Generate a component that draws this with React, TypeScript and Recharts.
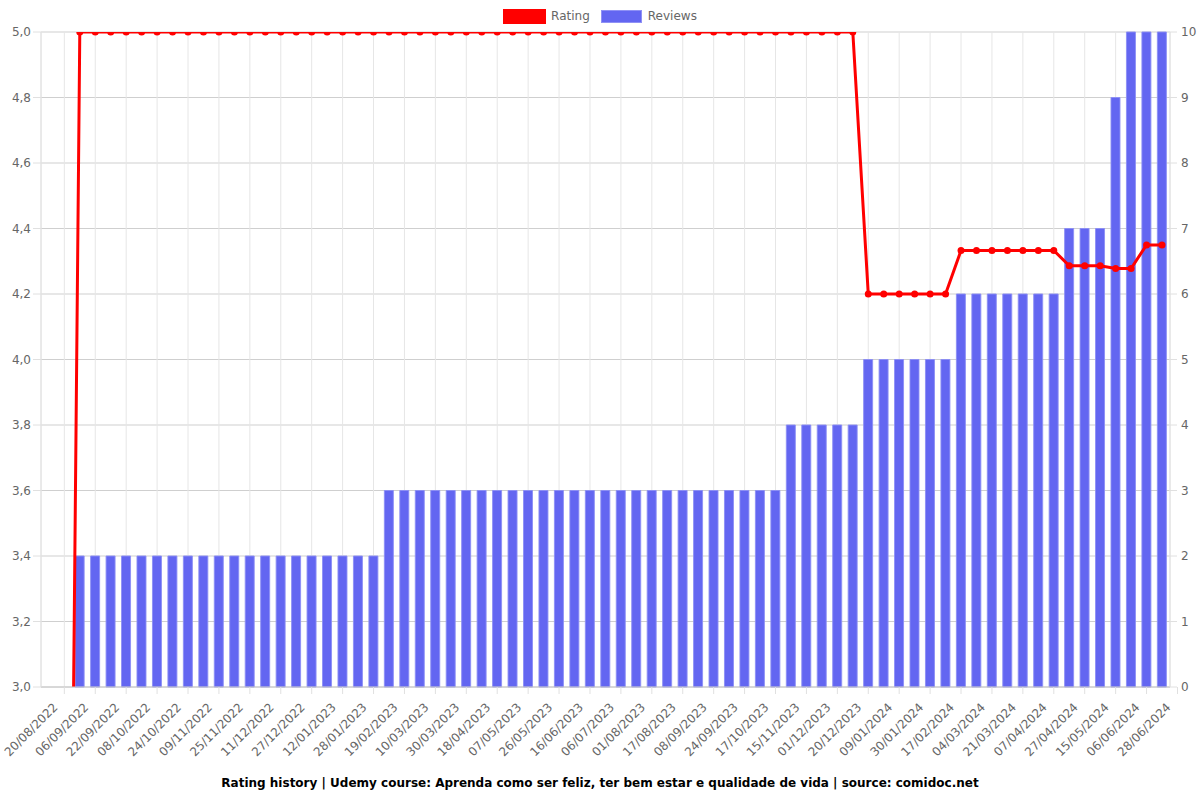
import React from 'react';
import { ComposedChart, Bar, Line, XAxis, YAxis, CartesianGrid, Legend } from 'recharts';

const dates = [
  '20/08/2022', '28/08/2022', '06/09/2022', '14/09/2022', '22/09/2022', '30/09/2022',
  '08/10/2022', '16/10/2022', '24/10/2022', '01/11/2022', '09/11/2022', '17/11/2022',
  '25/11/2022', '03/12/2022', '11/12/2022', '19/12/2022', '27/12/2022', '04/01/2023',
  '12/01/2023', '20/01/2023', '28/01/2023', '08/02/2023', '19/02/2023', '28/02/2023',
  '10/03/2023', '20/03/2023', '30/03/2023', '09/04/2023', '18/04/2023', '28/04/2023',
  '07/05/2023', '17/05/2023', '26/05/2023', '05/06/2023', '16/06/2023', '26/06/2023',
  '06/07/2023', '19/07/2023', '01/08/2023', '09/08/2023', '17/08/2023', '27/08/2023',
  '08/09/2023', '16/09/2023', '24/09/2023', '05/10/2023', '17/10/2023', '31/10/2023',
  '15/11/2023', '23/11/2023', '01/12/2023', '10/12/2023', '20/12/2023', '30/12/2023',
  '09/01/2024', '19/01/2024', '30/01/2024', '08/02/2024', '17/02/2024', '25/02/2024',
  '04/03/2024', '12/03/2024', '21/03/2024', '29/03/2024', '07/04/2024', '17/04/2024',
  '27/04/2024', '06/05/2024', '15/05/2024', '25/05/2024', '06/06/2024', '17/06/2024',
  '28/06/2024',
];

const ratingValues: (number | null)[] = [
  0,
  5, 5, 5, 5, 5, 5, 5, 5, 5, 5,
  5, 5, 5, 5, 5, 5, 5, 5, 5, 5,
  5, 5, 5, 5, 5, 5, 5, 5, 5, 5,
  5, 5, 5, 5, 5, 5, 5, 5, 5, 5,
  5, 5, 5, 5, 5, 5, 5, 5, 5, 5, 5,
  4.2, 4.2, 4.2, 4.2, 4.2, 4.2,
  4.333, 4.333, 4.333, 4.333, 4.333, 4.333, 4.333,
  4.286, 4.286, 4.286,
  4.278, 4.278,
  4.35, 4.35,
  null,
];

const reviewValues: (number | null)[] = [
  0,
  2, 2, 2, 2, 2, 2, 2, 2, 2, 2,
  2, 2, 2, 2, 2, 2, 2, 2, 2, 2,
  3, 3, 3, 3, 3, 3, 3, 3, 3, 3, 3, 3, 3,
  3, 3, 3, 3, 3, 3, 3, 3, 3, 3, 3, 3, 3,
  4, 4, 4, 4, 4,
  5, 5, 5, 5, 5, 5,
  6, 6, 6, 6, 6, 6, 6,
  7, 7, 7,
  9,
  10, 10, 10,
  null,
];

const ratingTicks = [3, 3.2, 3.4, 3.6, 3.8, 4, 4.2, 4.4, 4.6, 4.8, 5];
const reviewTicks = [0, 1, 2, 3, 4, 5, 6, 7, 8, 9, 10];
const legendOrder = ['Rating', 'Reviews'];
const TITLE =
  'Rating history | Udemy course: Aprenda como ser feliz, ter bem estar e qualidade de vida | source: comidoc.net';

const data = dates.map((date, i) => ({
  date,
  Rating: ratingValues[i],
  Reviews: reviewValues[i],
}));

const RED = '#ff0000';
const BLUE = '#6366f1';
const TEXT = '#666666';

const XTick = (props: any) => {
  const { x, y, payload } = props;
  return (
    <g transform={`translate(${x - 9},${y + 9})`}>
      <text textAnchor="end" fill={TEXT} fontSize={12} transform="rotate(-45)" dy="0.35em">
        {payload.value}
      </text>
    </g>
  );
};

const verticalGen = (args: any) => {
  const { xAxis, offset } = args;
  const left = offset.left;
  const right = offset.left + offset.width;
  const out: number[] = [left];
  try {
    const scale = xAxis && xAxis.scale;
    const call = (v: string) =>
      typeof scale === 'function' ? scale(v) : scale && scale.map ? scale.map(v) : undefined;
    const bw = scale && typeof scale.bandwidth === 'function' ? scale.bandwidth() : 0;
    dates.forEach((d, i) => {
      if (i % 2 !== 0) return;
      const p = call(d);
      if (typeof p !== 'number' || isNaN(p)) return;
      const c = p + bw / 2;
      if (c > left + 0.5 && c < right - 0.5) out.push(c);
    });
  } catch (e) {
    // ignore
  }
  out.push(right);
  return out;
};

const LegendContent = (props: any) => {
  const payload = [...(props.payload || [])].sort(
    (a: any, b: any) => legendOrder.indexOf(a.value) - legendOrder.indexOf(b.value)
  );
  return (
    <div
      style={{
        height: 32,
        display: 'flex',
        justifyContent: 'center',
        alignItems: 'center',
        fontSize: 12,
        color: TEXT,
        fontFamily: 'DejaVu Sans',
      }}
    >
      {payload.map((p: any, i: number) => {
        const isLine = p.value === 'Rating';
        return (
          <div key={p.value} style={{ display: 'flex', alignItems: 'center', marginLeft: i === 0 ? 0 : 11 }}>
            <div
              style={{
                width: isLine ? 43 : 41,
                height: isLine ? 15 : 13,
                boxSizing: 'border-box',
                background: isLine ? RED : BLUE,
                border: isLine ? `1px solid ${RED}` : '1px solid #8f91f5',
                marginRight: isLine ? 5 : 6,
              }}
            />
            <span>{p.value}</span>
          </div>
        );
      })}
    </div>
  );
};

export default function App() {
  return (
    <div
      style={{
        position: 'absolute',
        left: 0,
        top: 0,
        width: 1200,
        height: 800,
        background: '#ffffff',
        fontFamily: 'DejaVu Sans',
      }}
    >
      <ComposedChart width={1200} height={800} data={data} margin={{ top: 0, right: 0, bottom: 0, left: 0 }} barCategoryGap="20%">
        <CartesianGrid yAxisId="left" vertical={false} stroke="#cfcfcf" />
        <CartesianGrid yAxisId="left" horizontal={false} stroke="#e6e6e6" verticalCoordinatesGenerator={verticalGen} />
        <XAxis
          dataKey="date"
          interval={1}
          height={113}
          padding={{ left: 15.6, right: -15.2 }}
          tick={<XTick />}
          tickSize={7}
          tickLine={{ stroke: '#e0e0e0' }}
          axisLine={{ stroke: '#c8c8c8' }}
        />
        <YAxis
          yAxisId="left"
          width={41}
          domain={[3, 5]}
          ticks={ratingTicks}
          allowDataOverflow
          tickFormatter={(v: number) => v.toFixed(1).replace('.', ',')}
          tick={{ fill: TEXT, fontSize: 12 }}
          tickSize={8}
          tickLine={{ stroke: '#e0e0e0' }}
          axisLine={{ stroke: '#e0e0e0' }}
        />
        <YAxis
          yAxisId="right"
          orientation="right"
          width={30}
          domain={[0, 10]}
          ticks={reviewTicks}
          tick={{ fill: TEXT, fontSize: 12 }}
          tickSize={7}
          tickMargin={4}
          tickLine={{ stroke: '#e0e0e0' }}
          axisLine={{ stroke: '#e0e0e0' }}
        />
        <Legend verticalAlign="top" align="center" content={<LegendContent />} wrapperStyle={{ left: 0, width: 1200 }} />
        <Bar
          yAxisId="right"
          dataKey="Reviews"
          fill={BLUE}
          stroke="rgba(140,142,245,0.9)"
          strokeWidth={1}
          isAnimationActive={false}
        />
        <Line
          yAxisId="left"
          dataKey="Rating"
          stroke={RED}
          strokeWidth={3}
          dot={{ r: 3.5, fill: RED, stroke: RED, strokeWidth: 0 }}
          activeDot={false}
          isAnimationActive={false}
        />
      </ComposedChart>
      <div
        style={{
          position: 'absolute',
          left: 0,
          top: 775,
          width: 1200,
          height: 16,
          lineHeight: '16px',
          textAlign: 'center',
          fontWeight: 'bold',
          fontSize: 12,
          color: '#000',
        }}
      >
        {TITLE}
      </div>
    </div>
  );
}
